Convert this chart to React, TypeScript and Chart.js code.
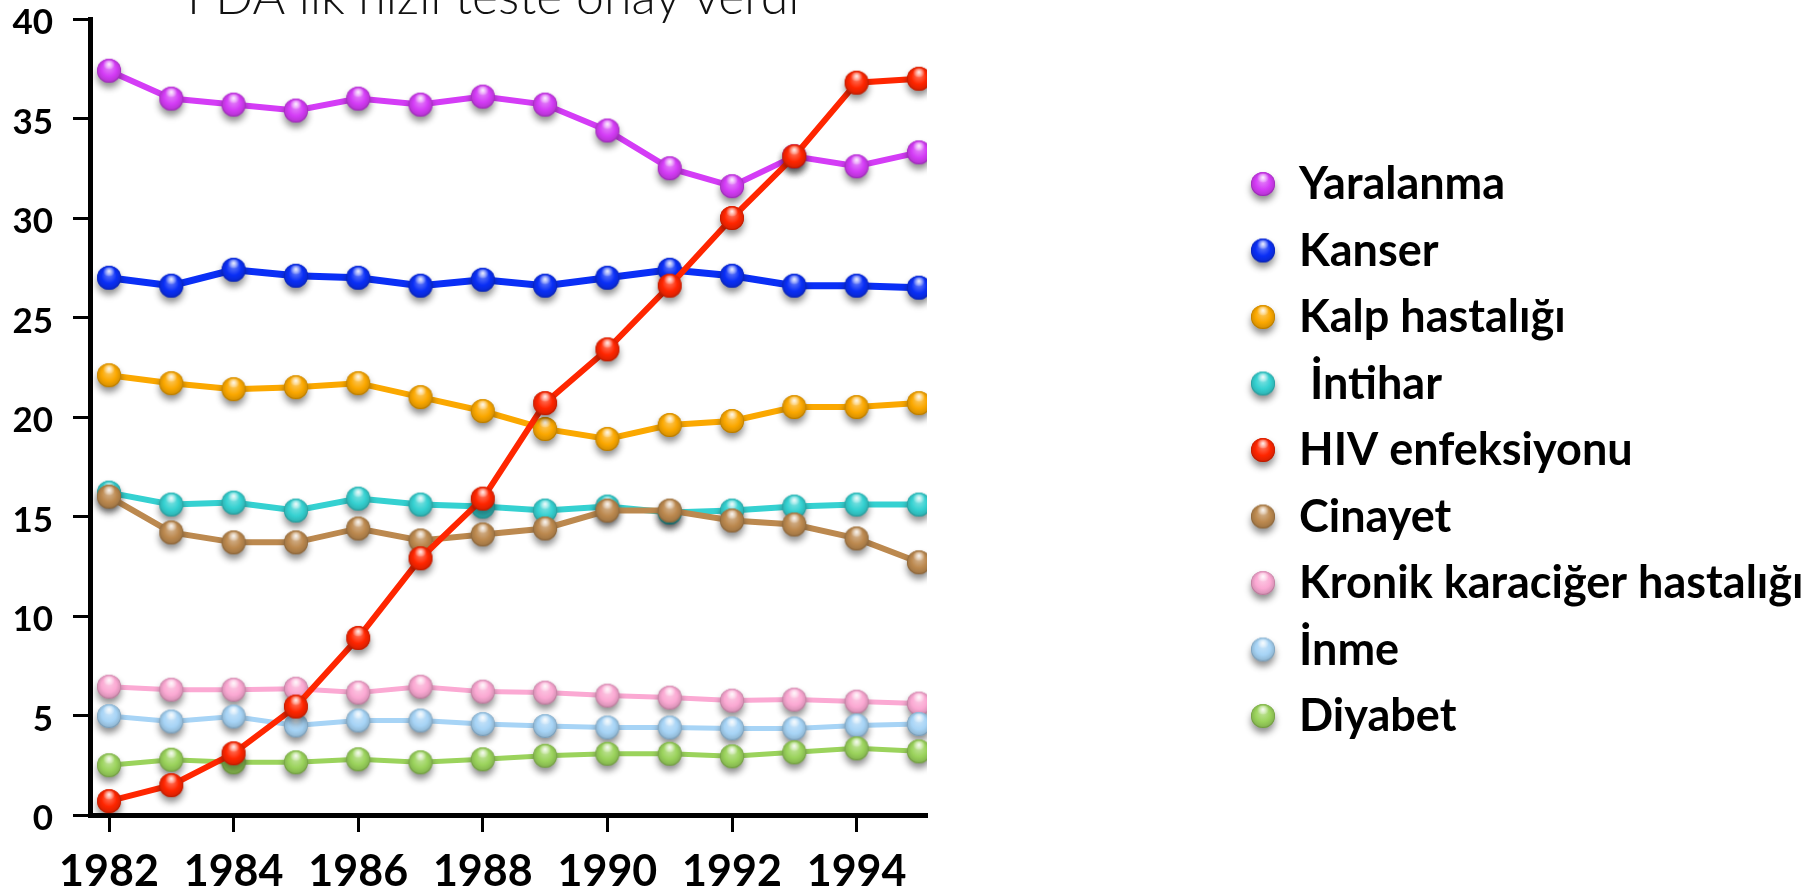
import React, { useEffect, useRef } from 'react';
import { Chart, registerables } from 'chart.js';

Chart.register(...registerables);

// ---------- data ----------
const years = [1982, 1983, 1984, 1985, 1986, 1987, 1988, 1989, 1990, 1991, 1992, 1993, 1994, 1995];
const xTickLabels = [1982, 1984, 1986, 1988, 1990, 1992, 1994];
const yTickValues = [0, 5, 10, 15, 20, 25, 30, 35, 40];
const titleText = 'FDA ilk hızlı teste onay verdi';

const seriesNames = [
  'Yaralanma',
  'Kanser',
  'Kalp hastalığı',
  ' İntihar',
  'HIV enfeksiyonu',
  'Cinayet',
  'Kronik karaciğer hastalığı',
  'İnme',
  'Diyabet',
];

const yaralanma = [37.4, 36.0, 35.7, 35.4, 36.0, 35.7, 36.1, 35.7, 34.4, 32.5, 31.6, 33.1, 32.6, 33.3];
const kanser = [27.0, 26.6, 27.4, 27.1, 27.0, 26.6, 26.9, 26.6, 27.0, 27.4, 27.1, 26.6, 26.6, 26.5];
const kalp = [22.1, 21.7, 21.4, 21.5, 21.7, 21.0, 20.3, 19.4, 18.9, 19.6, 19.8, 20.5, 20.5, 20.7];
const intihar = [16.2, 15.6, 15.7, 15.3, 15.9, 15.6, 15.5, 15.3, 15.5, 15.2, 15.3, 15.5, 15.6, 15.6];
const hiv = [0.7, 1.5, 3.1, 5.45, 8.9, 12.9, 15.9, 20.7, 23.4, 26.6, 30.0, 33.1, 36.8, 37.0];
const cinayet = [16.0, 14.2, 13.7, 13.7, 14.4, 13.8, 14.1, 14.4, 15.3, 15.3, 14.8, 14.6, 13.9, 12.7];
const kronik = [6.45, 6.3, 6.3, 6.35, 6.15, 6.45, 6.2, 6.15, 6.0, 5.9, 5.75, 5.8, 5.7, 5.6];
const inme = [4.97, 4.7, 4.95, 4.5, 4.75, 4.75, 4.57, 4.47, 4.4, 4.4, 4.35, 4.35, 4.5, 4.57];
const diyabet = [2.5, 2.78, 2.65, 2.65, 2.8, 2.65, 2.8, 2.98, 3.08, 3.08, 2.95, 3.15, 3.35, 3.2];

const seriesValues = [yaralanma, kanser, kalp, intihar, hiv, cinayet, kronik, inme, diyabet];

// ---------- styles ----------
const seriesColors = ['#d43cf6', '#0a2ff6', '#fba800', '#35d1d1', '#ff2600', '#bc894f', '#fba9d3', '#a7d4f6', '#9bd35c'];
const lineWidths = [6, 7, 6, 6, 6, 6, 5, 5, 5];
const drawOrder = [8, 7, 6, 5, 0, 4, 3, 2, 1];

const LEGEND_MARKER_X = 1263;
const LEGEND_TEXT_X = 1299;
const LEGEND_FIRST_Y = 184;
const LEGEND_STEP = 66.5;

function hexToRgb(h: string) {
  const n = parseInt(h.slice(1), 16);
  return [(n >> 16) & 255, (n >> 8) & 255, n & 255];
}
function mix(rgb: number[], t: number[], a: number) {
  const c = rgb.map((v, i) => Math.round(v + (t[i] - v) * a));
  return `rgb(${c[0]},${c[1]},${c[2]})`;
}

function makeBall(hex: string, r = 12) {
  const size = 50;
  const c = document.createElement('canvas');
  c.width = size;
  c.height = size;
  const ctx = c.getContext('2d')!;
  const cx = size / 2;
  const cy = size / 2;
  const rgb = hexToRgb(hex);
  ctx.save();
  ctx.shadowColor = 'rgba(0,0,0,0.45)';
  ctx.shadowBlur = 7;
  ctx.shadowOffsetY = 5;
  ctx.beginPath();
  ctx.arc(cx, cy, r, 0, Math.PI * 2);
  ctx.fillStyle = hex;
  ctx.fill();
  ctx.restore();
  const g = ctx.createRadialGradient(cx, cy - r * 0.35, r * 0.1, cx, cy, r * 1.05);
  g.addColorStop(0, mix(rgb, [255, 255, 255], 0.35));
  g.addColorStop(0.55, hex);
  g.addColorStop(0.85, mix(rgb, [0, 0, 0], 0.12));
  g.addColorStop(1, mix(rgb, [0, 0, 0], 0.4));
  ctx.beginPath();
  ctx.arc(cx, cy, r, 0, Math.PI * 2);
  ctx.fillStyle = g;
  ctx.fill();
  const hg = ctx.createRadialGradient(cx, cy - r * 0.55, 0, cx, cy - r * 0.55, r * 0.5);
  hg.addColorStop(0, 'rgba(255,255,255,0.9)');
  hg.addColorStop(1, 'rgba(255,255,255,0)');
  ctx.beginPath();
  ctx.ellipse(cx, cy - r * 0.5, r * 0.55, r * 0.38, 0, 0, Math.PI * 2);
  ctx.fillStyle = hg;
  ctx.fill();
  return c;
}

const titlePlugin = {
  id: 'cutTitle',
  afterDraw(chart: any) {
    const ctx = chart.ctx;
    ctx.save();
    ctx.font = '300 50px Lato, "Open Sans", sans-serif';
    ctx.fillStyle = '#111';
    ctx.textBaseline = 'alphabetic';
    ctx.textAlign = 'left';
    ctx.fillText(titleText, 187, 14);
    ctx.restore();
  },
};

const ballLegendPlugin = {
  id: 'ballLegend',
  afterDraw(chart: any) {
    const ctx = chart.ctx;
    ctx.save();
    ctx.font = 'bold 45px Lato, "Open Sans", sans-serif';
    ctx.textBaseline = 'alphabetic';
    ctx.textAlign = 'left';
    ctx.fillStyle = '#000';
    chart.data.datasets.forEach((ds: any, i: number) => {
      const y = LEGEND_FIRST_Y + i * LEGEND_STEP;
      const img = ds.pointStyle;
      ctx.drawImage(img, LEGEND_MARKER_X - img.width / 2, y - img.height / 2);
      ctx.fillText(ds.label, LEGEND_TEXT_X, y + 15);
    });
    ctx.restore();
  },
};

export default function App() {
  const ref = useRef<HTMLCanvasElement | null>(null);

  useEffect(() => {
    if (!ref.current) return;
    const datasets = seriesNames.map((name, i) => {
      const ball = makeBall(seriesColors[i]);
      return {
        label: name,
        data: seriesValues[i].map((v, j) => ({ x: years[j], y: v })),
        borderColor: seriesColors[i],
        backgroundColor: seriesColors[i],
        borderWidth: lineWidths[i],
        tension: 0,
        pointStyle: ball,
        pointRadius: 12,
        pointHoverRadius: 12,
        order: drawOrder[i],
      };
    });

    const chart = new Chart(ref.current, {
      type: 'line',
      data: { datasets },
      plugins: [titlePlugin, ballLegendPlugin],
      options: {
        animation: false,
        responsive: false,
        devicePixelRatio: 1,
        layout: { padding: { top: 0, right: 879, bottom: 0, left: 0 } },
        plugins: {
          tooltip: { enabled: false },
          title: { display: false },
          legend: { display: false },
        },
        scales: {
          x: {
            type: 'linear',
            position: 'bottom',
            min: 1981.695,
            max: 1995.13,
            afterBuildTicks: (s: any) => {
              s.ticks = xTickLabels.map((v) => ({ value: v }));
            },
            afterFit: (s: any) => {
              s.height = 78;
            },
            grid: {
              drawOnChartArea: false,
              drawTicks: true,
              tickLength: 17,
              tickWidth: 3,
              tickColor: '#000',
              color: '#000',
            },
            border: { display: true, width: 5, color: '#000' },
            ticks: {
              color: '#000',
              padding: 19,
              autoSkip: false,
              maxRotation: 0,
              font: { family: 'Lato, "Open Sans", sans-serif', size: 43, weight: 'bold', lineHeight: 1 },
              callback: (v: any) => String(v),
            },
          },
          y: {
            type: 'linear',
            position: 'left',
            min: 0,
            max: 40,
            afterBuildTicks: (s: any) => {
              s.ticks = yTickValues.map((v) => ({ value: v }));
            },
            afterFit: (s: any) => {
              s.width = 90;
              s.paddingTop = 16;
              s.paddingBottom = 0;
            },
            grid: {
              drawOnChartArea: false,
              drawTicks: true,
              tickLength: 17,
              tickWidth: 3,
              tickColor: '#000',
              color: '#000',
            },
            border: { display: true, width: 5, color: '#000' },
            ticks: {
              color: '#000',
              padding: 20,
              labelOffset: 4,
              font: { family: 'Lato, "Open Sans", sans-serif', size: 35, weight: 'bold', lineHeight: 1 },
              callback: (v: any) => String(v),
            },
          },
        },
      },
    } as any);

    return () => chart.destroy();
  }, []);

  return (
    <div style={{ position: 'absolute', left: 0, top: 0, width: 1806, height: 893, background: '#fff' }}>
      <canvas ref={ref} width={1806} height={893} style={{ display: 'block' }} />
    </div>
  );
}
